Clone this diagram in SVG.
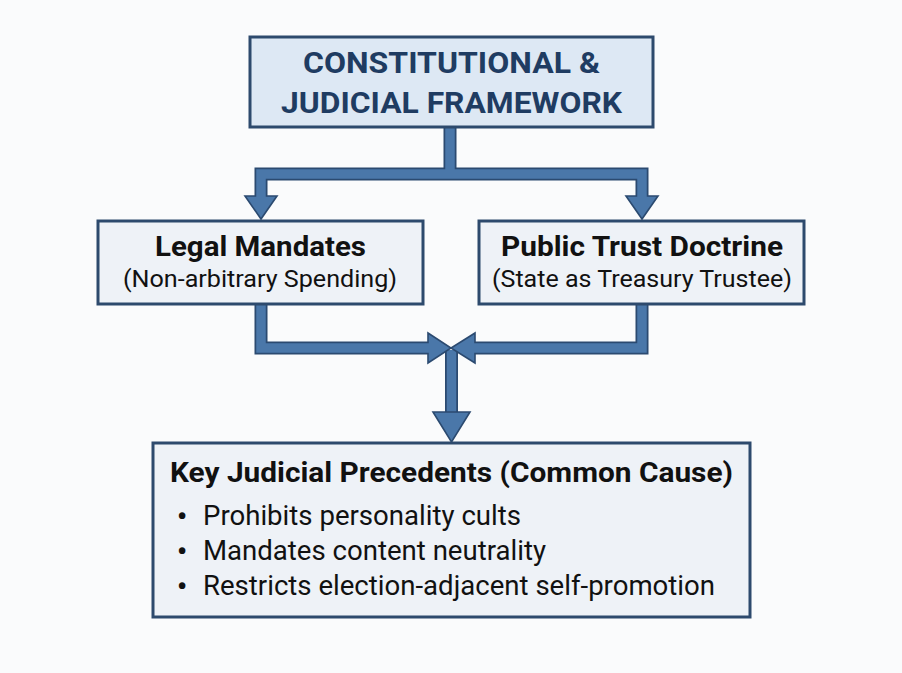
<svg xmlns="http://www.w3.org/2000/svg" width="902" height="673" viewBox="0 0 902 673">
<style>
.bg{fill:#fafbfc}
.box{stroke:#2d4a6d;stroke-width:3}
.top{fill:#dde8f4}
.mid{fill:#eef2f7}
.t{font-family:Roboto,"Liberation Sans",sans-serif}
.title{font-size:30px;font-weight:bold;fill:#1f3c62}
.h{font-size:27px;font-weight:bold;fill:#111}
.s{font-size:24px;fill:#111}
.b{font-size:27px;fill:#111}
.bu{font-size:28px;font-weight:bold;fill:#111}
.co{fill:none;stroke:#2b4a70;stroke-width:13;stroke-linejoin:miter}
.ci{fill:none;stroke:#4a77a9;stroke-width:9.5;stroke-linejoin:miter}
.ah{fill:#4a77a9;stroke:#2b4a70;stroke-width:1.6;stroke-linejoin:miter}
</style>
<rect class="bg" x="0" y="0" width="902" height="673"/>
<g id="connectors">
  <path class="co" d="M450,126 V174 M261,198 V174 H642 V198"/>
  <path class="co" d="M451.5,350 V414"/>
  <path class="ci" d="M451.5,350 V414"/>
  <path class="co" d="M261,303 V348 H430 M642,303 V348 H473"/>
  <polygon class="ah" points="245,196 277,196 261,219"/>
  <polygon class="ah" points="626,196 658,196 642,219"/>
  <polygon class="ah" points="428,333 451,348 428,363"/>
  <polygon class="ah" points="475,333 451,348 475,363"/>
  <polygon class="ah" points="433,412 470,412 451.5,442"/>
  <path class="ci" d="M450,126 V174 M261,198 V174 H642 V198"/>
  <path class="ci" d="M261,303 V348 H430 M642,303 V348 H473"/>
</g>
<g id="framework">
  <rect class="box top" x="250" y="37" width="403" height="90"/>
  <text class="t title" x="303" y="73" textLength="297" lengthAdjust="spacingAndGlyphs">CONSTITUTIONAL &amp;</text>
  <text class="t title" x="281" y="113" textLength="341" lengthAdjust="spacingAndGlyphs">JUDICIAL FRAMEWORK</text>
</g>
<g id="legal-mandates">
  <rect class="box mid" x="98" y="221" width="325" height="83"/>
  <text class="t h" x="155" y="256" textLength="211" lengthAdjust="spacingAndGlyphs">Legal Mandates</text>
  <text class="t s" x="123" y="287" textLength="274" lengthAdjust="spacingAndGlyphs">(Non-arbitrary Spending)</text>
</g>
<g id="public-trust">
  <rect class="box mid" x="479" y="221" width="325" height="83"/>
  <text class="t h" x="501" y="256" textLength="282" lengthAdjust="spacingAndGlyphs">Public Trust Doctrine</text>
  <text class="t s" x="492" y="287" textLength="300" lengthAdjust="spacingAndGlyphs">(State as Treasury Trustee)</text>
</g>
<g id="precedents">
  <rect class="box mid" x="153" y="443" width="597" height="174"/>
  <text class="t h" x="170" y="482" textLength="563" lengthAdjust="spacingAndGlyphs">Key Judicial Precedents (Common Cause)</text>
  <text class="t bu" x="177" y="526">•</text>
  <text class="t b" x="203" y="525" textLength="318" lengthAdjust="spacingAndGlyphs">Prohibits personality cults</text>
  <text class="t bu" x="177" y="561">•</text>
  <text class="t b" x="203" y="560" textLength="343" lengthAdjust="spacingAndGlyphs">Mandates content neutrality</text>
  <text class="t bu" x="177" y="596">•</text>
  <text class="t b" x="203" y="595" textLength="512" lengthAdjust="spacingAndGlyphs">Restricts election-adjacent self-promotion</text>
</g>
</svg>
